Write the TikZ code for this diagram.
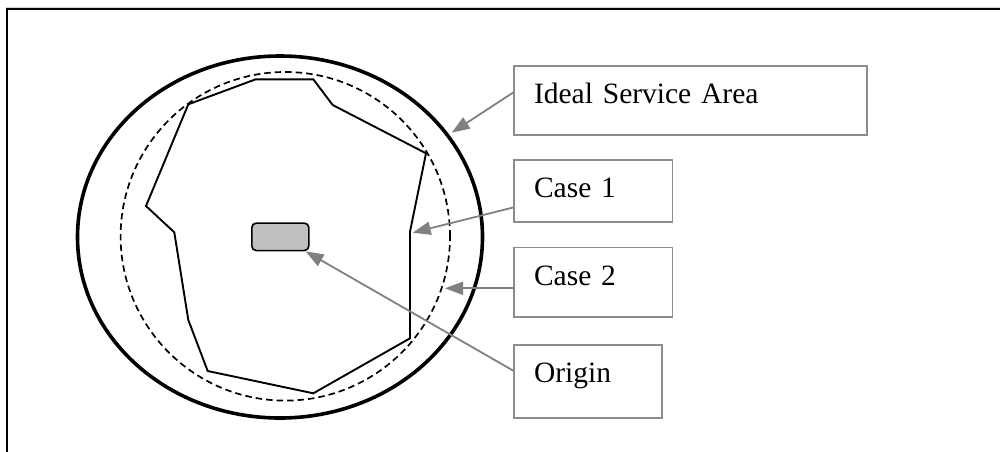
\documentclass[tikz,border=0pt]{standalone}
\usepackage{fontspec}
\setmainfont{Liberation Serif}
\usetikzlibrary{arrows.meta}

\definecolor{boxgray}{HTML}{8C8C8C}
\definecolor{arrowgray}{HTML}{808080}
\definecolor{originfill}{HTML}{C0C0C0}

\tikzset{
  labelbox/.style n args={2}{draw=boxgray, line width=1.5pt, anchor=north west,
    inner xsep=20pt, inner ysep=0pt, text width=#1-40pt, align=left,
    text height=38pt, text depth=#2-38pt, font=\fontsize{29.5}{32}\selectfont},
  pointer/.style={draw=arrowgray, line width=1.8pt,
    -{Triangle[length=18pt,width=13pt]}},
  area/.style={line width=3.6pt},
  boundary/.style={line width=1.7pt, dash pattern=on 6.5pt off 4pt},
  routeline/.style={line width=1.9pt, line join=miter},
}

\begin{document}
\begin{tikzpicture}[x=1pt,y=-1pt]
\useasboundingbox (0,0) rectangle (1000,451);

% page frame
\draw[gray!35, line width=1pt] (6,7.2) -- (1000,7.2);
\draw[line width=2pt] (6.7,460) -- (6.7,9.3) -- (1010,9.3);

% ideal service area and the two cases
\draw[area] (280,237) ellipse [x radius=202.5pt, y radius=181pt];
\draw[boundary] (285.3,236.3) ellipse [x radius=164.7pt, y radius=164.3pt];
\draw[routeline] (188.3,104.3) -- (255.7,79.3) -- (313.3,79.3) -- (332.7,105)
  -- (426,153.3) -- (410,231.7) -- (410,338.3) -- (313.3,393.3)
  -- (207.7,371) -- (188.3,320) -- (174.3,232.3) -- (146,206) -- cycle;

% origin
\node[draw, line width=1.6pt, fill=originfill, rounded corners=4.5pt,
  minimum width=57pt, minimum height=27.5pt, inner sep=0pt] (orig) at (280.3,236.8) {};

% label boxes
\node[labelbox={352.7pt}{69pt}] (ideal) at (513.3,65) {Ideal Service Area};
\node[labelbox={158.4pt}{62pt}] (case1) at (513.3,159) {Case 1};
\node[labelbox={158.4pt}{69.3pt}] (case2) at (513.3,246.7) {Case 2};
\node[labelbox={147.7pt}{73.3pt}] (origbox) at (513.3,344) {Origin};

% pointer targets
\coordinate (idealtip) at (451.7,132.7);
\coordinate (case1tip) at (412.7,232.7);
\coordinate (case2tip) at (445,288.3);

% pointers
\draw[pointer] ([yshift=7.8pt]ideal.west) -- (idealtip);
\draw[pointer] ([yshift=-16.7pt]case1.west) -- (case1tip);
\draw[pointer] (case2tip -| case2.west) -- (case2tip);
\draw[pointer] ([yshift=10.7pt]origbox.west) -- (orig);
\end{tikzpicture}
\end{document}
